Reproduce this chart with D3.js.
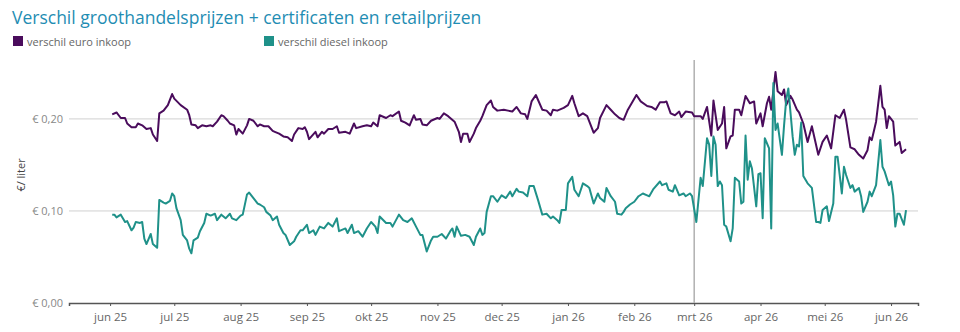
<!DOCTYPE html>
<html>
<head>
<meta charset="utf-8">
<script src="https://cdn.jsdelivr.net/npm/d3@7"></script>
<style>
  body { margin: 0; background: #fff; }
  svg { display: block; font-family: "Open Sans", "Noto Sans", sans-serif; }
</style>
</head>
<body>
<div id="chart"></div>
<script>
// Series start date, every point is a day offset from here
const startDate = "2025-06-01";
const markerDate = "2026-03-01";

const xTickLabels = ["jun 25", "jul 25", "aug 25", "sep 25", "okt 25", "nov 25", "dec 25",
  "jan 26", "feb 26", "mrt 26", "apr 26", "mei 26", "jun 26"];
const yTicks = [0, 0.1, 0.2];

const seriesNames = ["verschil euro inkoop", "verschil diesel inkoop"];

// verschil euro inkoop
const euroDays = [1, 3, 5, 7, 8, 10, 12, 13, 15, 17, 19, 20, 22, 23, 25, 26, 27, 29, 30, 33,
  36, 37, 38, 40, 41, 43, 45, 47, 48, 50, 52, 53, 55, 56, 58, 59, 60, 62, 64, 65,
  67, 69, 70, 72, 74, 76, 77, 79, 81, 83, 85, 86, 88, 90, 91, 92, 93, 96, 97, 99,
  100, 102, 104, 106, 107, 110, 112, 114, 115, 118, 120, 122, 123, 125, 126, 129, 131, 132, 135, 136,
  138, 140, 142, 143, 145, 146, 148, 150, 153, 154, 156, 158, 161, 163, 164, 165, 167, 168, 170, 171,
  173, 174, 176, 178, 179, 181, 184, 186, 188, 190, 192, 194, 195, 197, 199, 202, 204, 206, 207, 209,
  212, 214, 216, 217, 219, 221, 223, 224, 226, 228, 229, 232, 234, 236, 238, 240, 242, 246, 248, 251,
  253, 255, 257, 259, 260, 262, 264, 266, 267, 269, 272, 273, 276, 277, 279, 281, 282, 284, 286, 287,
  288, 290, 291, 292, 294, 295, 297, 299, 301, 302, 304, 305, 307, 308, 309, 311, 312, 314, 315, 316,
  318, 319, 321, 322, 324, 326, 328, 331, 333, 335, 337, 339, 341, 343, 344, 346, 348, 350, 352, 354,
  355, 356, 358, 360, 361, 362, 363, 364, 366, 367, 369, 370, 372];
const euroValues = [0.205, 0.207, 0.201, 0.201, 0.195, 0.191, 0.191, 0.195, 0.193, 0.189, 0.190, 0.183, 0.176, 0.206, 0.209, 0.212, 0.215, 0.227, 0.222, 0.215,
  0.210, 0.204, 0.194, 0.193, 0.190, 0.193, 0.192, 0.193, 0.192, 0.197, 0.204, 0.203, 0.198, 0.195, 0.193, 0.183, 0.189, 0.184, 0.193, 0.200,
  0.198, 0.192, 0.194, 0.192, 0.192, 0.187, 0.186, 0.184, 0.181, 0.180, 0.176, 0.183, 0.190, 0.189, 0.191, 0.186, 0.178, 0.186, 0.180, 0.186,
  0.184, 0.189, 0.189, 0.192, 0.185, 0.186, 0.184, 0.195, 0.190, 0.192, 0.193, 0.192, 0.196, 0.192, 0.204, 0.201, 0.204, 0.203, 0.208, 0.198,
  0.196, 0.193, 0.204, 0.199, 0.200, 0.194, 0.193, 0.198, 0.201, 0.200, 0.206, 0.203, 0.197, 0.186, 0.175, 0.184, 0.184, 0.175, 0.184, 0.190,
  0.198, 0.203, 0.215, 0.220, 0.213, 0.209, 0.210, 0.209, 0.208, 0.213, 0.206, 0.205, 0.200, 0.219, 0.226, 0.210, 0.209, 0.204, 0.210, 0.209,
  0.212, 0.215, 0.225, 0.217, 0.203, 0.206, 0.203, 0.197, 0.185, 0.190, 0.201, 0.215, 0.210, 0.205, 0.201, 0.199, 0.210, 0.226, 0.219, 0.214,
  0.213, 0.210, 0.218, 0.218, 0.219, 0.206, 0.204, 0.208, 0.202, 0.208, 0.207, 0.203, 0.203, 0.200, 0.213, 0.182, 0.220, 0.188, 0.195, 0.213,
  0.168, 0.181, 0.182, 0.210, 0.210, 0.204, 0.225, 0.217, 0.219, 0.195, 0.206, 0.192, 0.217, 0.224, 0.210, 0.251, 0.230, 0.226, 0.232, 0.215,
  0.225, 0.221, 0.210, 0.207, 0.195, 0.175, 0.192, 0.161, 0.175, 0.182, 0.168, 0.204, 0.201, 0.210, 0.199, 0.169, 0.167, 0.161, 0.157, 0.166,
  0.180, 0.177, 0.197, 0.236, 0.213, 0.210, 0.190, 0.203, 0.197, 0.171, 0.175, 0.163, 0.167];

// verschil diesel inkoop
const dieselDays = [1, 2, 3, 5, 7, 8, 10, 11, 12, 14, 15, 16, 17, 19, 20, 22, 23, 25, 26, 28,
  29, 30, 31, 33, 34, 36, 37, 38, 39, 41, 42, 44, 45, 47, 49, 50, 52, 54, 56, 57,
  59, 61, 62, 64, 65, 67, 69, 70, 72, 73, 75, 76, 78, 79, 81, 82, 84, 86, 87, 89,
  90, 92, 93, 95, 96, 98, 100, 102, 104, 106, 107, 110, 111, 113, 114, 116, 118, 120, 122, 124,
  125, 126, 129, 131, 132, 135, 137, 139, 141, 143, 145, 146, 148, 150, 151, 153, 155, 157, 159, 160,
  161, 162, 164, 166, 168, 170, 171, 173, 174, 175, 176, 178, 179, 181, 183, 185, 187, 188, 190, 191,
  193, 195, 196, 198, 200, 202, 204, 206, 207, 209, 210, 211, 213, 214, 216, 217, 219, 221, 223, 224,
  226, 228, 229, 231, 232, 234, 236, 237, 239, 240, 241, 243, 245, 247, 249, 251, 252, 254, 257, 258,
  260, 261, 263, 264, 266, 268, 269, 271, 272, 274, 276, 277, 279, 280, 281, 282, 283, 284, 285, 286,
  287, 288, 290, 291, 292, 294, 295, 296, 297, 298, 299, 300, 302, 303, 304, 305, 306, 308, 309, 310,
  311, 312, 314, 315, 316, 317, 319, 320, 321, 322, 323, 324, 326, 328, 330, 331, 332, 333, 335, 336,
  338, 339, 340, 342, 343, 344, 346, 347, 348, 350, 351, 352, 354, 355, 356, 358, 360, 361, 362, 364,
  365, 366, 367, 368, 369, 371, 372];
const dieselValues = [0.096, 0.096, 0.093, 0.096, 0.088, 0.089, 0.079, 0.082, 0.088, 0.087, 0.088, 0.070, 0.064, 0.075, 0.064, 0.060, 0.112, 0.109, 0.108, 0.111,
  0.119, 0.116, 0.103, 0.090, 0.074, 0.068, 0.059, 0.054, 0.068, 0.071, 0.078, 0.087, 0.097, 0.095, 0.097, 0.090, 0.096, 0.092, 0.097, 0.092,
  0.090, 0.095, 0.096, 0.118, 0.120, 0.114, 0.108, 0.107, 0.104, 0.099, 0.095, 0.090, 0.094, 0.085, 0.076, 0.074, 0.063, 0.067, 0.072, 0.079,
  0.079, 0.085, 0.076, 0.079, 0.074, 0.083, 0.081, 0.087, 0.083, 0.092, 0.078, 0.081, 0.076, 0.085, 0.076, 0.078, 0.072, 0.081, 0.088, 0.083,
  0.076, 0.094, 0.087, 0.087, 0.083, 0.096, 0.090, 0.088, 0.092, 0.083, 0.074, 0.074, 0.056, 0.068, 0.072, 0.072, 0.075, 0.070, 0.078, 0.081,
  0.072, 0.083, 0.073, 0.074, 0.072, 0.063, 0.072, 0.081, 0.074, 0.076, 0.099, 0.116, 0.116, 0.110, 0.117, 0.114, 0.121, 0.116, 0.124, 0.121,
  0.120, 0.116, 0.127, 0.127, 0.112, 0.096, 0.097, 0.092, 0.094, 0.090, 0.087, 0.101, 0.101, 0.130, 0.137, 0.123, 0.116, 0.130, 0.127, 0.125,
  0.108, 0.119, 0.114, 0.110, 0.125, 0.116, 0.110, 0.097, 0.096, 0.099, 0.103, 0.107, 0.110, 0.116, 0.119, 0.117, 0.116, 0.124, 0.132, 0.128,
  0.130, 0.123, 0.121, 0.128, 0.117, 0.119, 0.116, 0.119, 0.116, 0.088, 0.136, 0.127, 0.179, 0.172, 0.138, 0.181, 0.172, 0.127, 0.132, 0.128,
  0.085, 0.083, 0.067, 0.081, 0.136, 0.132, 0.108, 0.110, 0.182, 0.134, 0.154, 0.146, 0.105, 0.140, 0.141, 0.092, 0.179, 0.168, 0.081, 0.239,
  0.188, 0.195, 0.161, 0.193, 0.221, 0.233, 0.181, 0.161, 0.172, 0.170, 0.196, 0.138, 0.130, 0.125, 0.088, 0.088, 0.087, 0.101, 0.105, 0.089,
  0.108, 0.159, 0.159, 0.119, 0.148, 0.139, 0.125, 0.128, 0.121, 0.125, 0.116, 0.099, 0.110, 0.121, 0.116, 0.128, 0.177, 0.148, 0.143, 0.128,
  0.132, 0.117, 0.083, 0.097, 0.097, 0.085, 0.101];

const colors = ["#4a0c5c", "#1f9189"];

const width = 960, height = 332;
const margin = { left: 69, right: 42, top: 60, bottom: 29 };
const DAY = 864e5;
const t0 = new Date(startDate + "T00:00:00Z");

const toSeries = (days, values) => days.map((d, i) => ({ date: new Date(+t0 + d * DAY), value: values[i] }));
const series = [toSeries(euroDays, euroValues), toSeries(dieselDays, dieselValues)];

const svg = d3.select("#chart").append("svg")
  .attr("width", width)
  .attr("height", height);

// Scales
const x = d3.scaleUtc()
  .domain([new Date(+t0 - 19.2 * DAY), new Date(+t0 + 377.6 * DAY)])
  .range([margin.left, width - margin.right]);

const y = d3.scaleLinear()
  .domain([0, 0.264])
  .range([height - margin.bottom, margin.top]);

// Title
svg.append("text")
  .attr("x", 12)
  .attr("y", 24)
  .attr("fill", "#1f8db3")
  .style("font-family", "'Open Sans', sans-serif")
  .style("font-size", "17.5px")
  .text("Verschil groothandelsprijzen + certificaten en retailprijzen");

// Legend
const legendX = [13, 264];
seriesNames.forEach((name, i) => {
  const g = svg.append("g").attr("transform", `translate(${legendX[i]},36)`);
  g.append("rect").attr("width", 10).attr("height", 10).attr("fill", colors[i]);
  g.append("text")
    .attr("x", 14)
    .attr("y", 9.5)
    .attr("fill", "#666")
    .style("font-size", "11px")
    .text(name);
});

// Gridlines
svg.append("g")
  .selectAll("line")
  .data(yTicks.filter(d => d > 0))
  .join("line")
  .attr("x1", margin.left)
  .attr("x2", width - margin.right)
  .attr("y1", d => y(d))
  .attr("y2", d => y(d))
  .attr("stroke", "#d0d0d0")
  .attr("stroke-width", 1);

// Y axis labels
const euroFmt = d => "€ " + d3.format(".2f")(d).replace(".", ",");
svg.append("g")
  .selectAll("text")
  .data(yTicks)
  .join("text")
  .attr("x", 63)
  .attr("y", d => y(d) + 4)
  .attr("text-anchor", "end")
  .attr("fill", "#888")
  .style("font-size", "11px")
  .text(euroFmt);

svg.append("text")
  .attr("transform", `translate(25,${y(0.1) - 36}) rotate(-90)`)
  .attr("text-anchor", "middle")
  .attr("fill", "#444")
  .style("font-size", "11px")
  .text("€/ liter");

// X axis
const monthTicks = d3.utcMonth.range(t0, x.domain()[1]);
const xAxis = d3.axisBottom(x)
  .tickValues(monthTicks)
  .tickSize(3)
  .tickFormat((d, i) => xTickLabels[i]);

const gx = svg.append("g")
  .attr("transform", `translate(0,${y(0)})`)
  .call(xAxis);
gx.select(".domain").attr("stroke", "#555").attr("stroke-width", 1.5);
gx.selectAll(".tick line").attr("stroke", "#555");
gx.selectAll(".tick text")
  .attr("fill", "#666")
  .attr("dy", "1.05em")
  .style("font-size", "11.5px")
  .style("font-family", "'Open Sans', sans-serif");

// Marker line
const mDate = new Date(markerDate + "T00:00:00Z");
svg.append("line")
  .attr("x1", x(mDate))
  .attr("x2", x(mDate))
  .attr("y1", margin.top)
  .attr("y2", y(0))
  .attr("stroke", "#b0b0b0")
  .attr("stroke-width", 1.5);

// Lines
const line = d3.line()
  .x(d => x(d.date))
  .y(d => y(d.value));

svg.append("g")
  .selectAll("path")
  .data(series)
  .join("path")
  .attr("d", line)
  .attr("fill", "none")
  .attr("stroke", (d, i) => colors[i])
  .attr("stroke-width", 2)
  .attr("stroke-linejoin", "round");
</script>
</body>
</html>
